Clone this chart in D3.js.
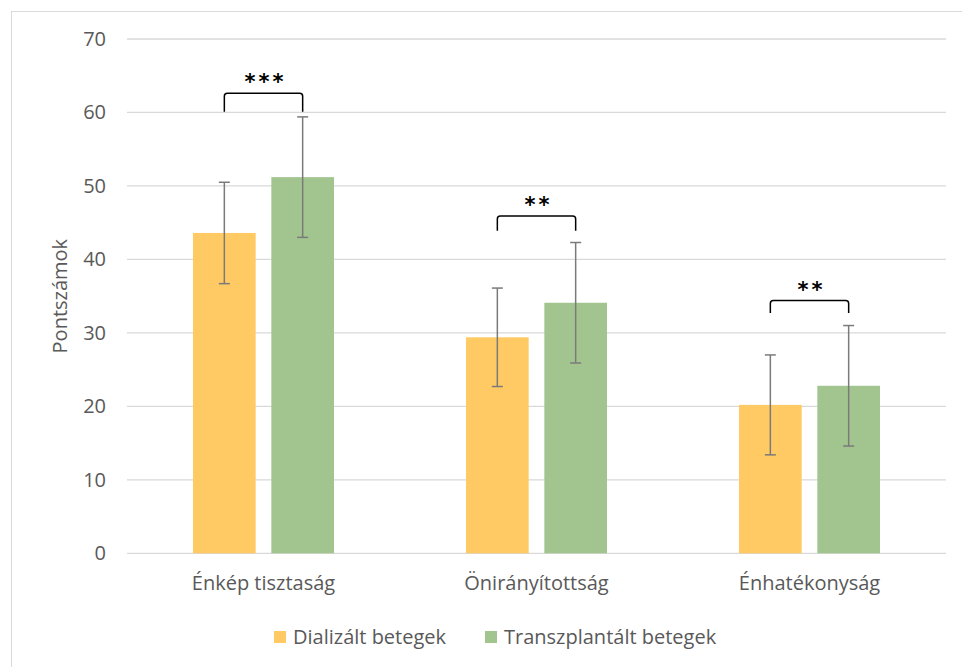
<!DOCTYPE html>
<html>
<head>
<meta charset="utf-8">
<script src="https://cdn.jsdelivr.net/npm/d3@7"></script>
<style>
  html, body { margin: 0; padding: 0; background: #fff; }
  svg { display: block; font-family: "Open Sans", "Noto Sans", sans-serif; }
</style>
</head>
<body>
<svg id="chart" width="962" height="667"></svg>
<script>
// Scale scores per group
const categories = ["Énkép tisztaság", "Önirányítottság", "Énhatékonyság"];
const seriesNames = ["Dializált betegek", "Transzplantált betegek"];
const seriesColors = ["#FFCA63", "#A2C590"];
const dialysisMean = [43.6, 29.4, 20.2];
const dialysisSD = [6.9, 6.7, 6.8];
const transplantMean = [51.2, 34.1, 22.8];
const transplantSD = [8.2, 8.2, 8.2];
const yTicks = [0, 10, 20, 30, 40, 50, 60, 70];
// significance brackets: top line, leg ends, star label
const bracketTop = [62.6, 45.9, 34.4];
const bracketLeg = [60.1, 43.9, 32.7];
const significance = ["***", "**", "**"];

const svg = d3.select("#chart");
const plot = { left: 127, right: 946, top: 39, bottom: 553.3 };
const labelSize = 20;

// outer chart frame (runs past the canvas at right and bottom)
svg.append("rect")
  .attr("x", 11.5).attr("y", 11.5)
  .attr("width", 1000).attr("height", 700)
  .attr("fill", "none").attr("stroke", "#d9d9d9").attr("stroke-width", 1);

const x = d3.scaleBand().domain(categories).range([plot.left, plot.right]);
const y = d3.scaleLinear().domain([0, 70]).range([plot.bottom, plot.top]);
const inner = d3.scaleBand().domain([0, 1])
  .range([x.bandwidth() * 0.2418, x.bandwidth() * 0.7582]).paddingInner(0.2);

// gridlines
svg.append("g").selectAll("line").data(yTicks).join("line")
  .attr("x1", plot.left).attr("x2", plot.right)
  .attr("y1", d => y(d)).attr("y2", d => y(d))
  .attr("stroke", "#d9d9d9").attr("stroke-width", 1.3);

// y axis labels
const yAxis = d3.axisLeft(y).tickValues(yTicks).tickSize(0).tickPadding(0);
svg.append("g")
  .attr("transform", `translate(${plot.left - 21},0)`)
  .call(yAxis)
  .call(g => g.select(".domain").remove())
  .call(g => g.selectAll("text")
    .attr("fill", "#595959").attr("font-size", labelSize)
    .attr("font-family", "'Open Sans', sans-serif"));

// x axis labels
const xAxis = d3.axisBottom(x).tickSize(0).tickPadding(0);
svg.append("g")
  .attr("transform", `translate(0,${plot.bottom + 22.5})`)
  .call(xAxis)
  .call(g => g.select(".domain").remove())
  .call(g => g.selectAll("text")
    .attr("fill", "#595959").attr("font-size", labelSize)
    .attr("font-family", "'Open Sans', sans-serif"));

// y axis title
svg.append("text")
  .attr("transform", `translate(67,${(plot.top + plot.bottom) / 2}) rotate(-90)`)
  .attr("text-anchor", "middle")
  .attr("fill", "#595959").attr("font-size", 20)
  .text("Pontszámok");

const rows = categories.map((c, i) => ({
  cat: c,
  values: [
    { s: 0, mean: dialysisMean[i], sd: dialysisSD[i] },
    { s: 1, mean: transplantMean[i], sd: transplantSD[i] }
  ]
}));

const groups = svg.append("g").selectAll("g").data(rows).join("g")
  .attr("transform", d => `translate(${x(d.cat)},0)`);

groups.selectAll("rect").data(d => d.values).join("rect")
  .attr("x", d => inner(d.s))
  .attr("width", inner.bandwidth())
  .attr("y", d => y(d.mean))
  .attr("height", d => y(0) - y(d.mean))
  .attr("fill", d => seriesColors[d.s]);

// error bars (±SD)
const capHalf = 5.5;
const eb = groups.selectAll("g.err").data(d => d.values).join("g").attr("class", "err")
  .attr("stroke", "#7a7a7a").attr("stroke-width", 1.5);
const cx = d => inner(d.s) + inner.bandwidth() / 2;
eb.append("line")
  .attr("x1", cx).attr("x2", cx)
  .attr("y1", d => y(d.mean + d.sd)).attr("y2", d => y(d.mean - d.sd));
eb.append("line")
  .attr("x1", d => cx(d) - capHalf).attr("x2", d => cx(d) + capHalf)
  .attr("y1", d => y(d.mean + d.sd)).attr("y2", d => y(d.mean + d.sd));
eb.append("line")
  .attr("x1", d => cx(d) - capHalf).attr("x2", d => cx(d) + capHalf)
  .attr("y1", d => y(d.mean - d.sd)).attr("y2", d => y(d.mean - d.sd));

// significance brackets
groups.each(function (d, i) {
  const g = d3.select(this);
  const xl = inner(0) + inner.bandwidth() / 2;
  const xr = inner(1) + inner.bandwidth() / 2;
  const yt = y(bracketTop[i]);
  const yb = y(bracketLeg[i]);
  const r = 3;
  const p = d3.path();
  p.moveTo(xl, yb);
  p.lineTo(xl, yt + r);
  p.quadraticCurveTo(xl, yt, xl + r, yt);
  p.lineTo(xr - r, yt);
  p.quadraticCurveTo(xr, yt, xr, yt + r);
  p.lineTo(xr, yb);
  g.append("path").attr("d", p.toString())
    .attr("fill", "none").attr("stroke", "#000").attr("stroke-width", 1.5);
  g.append("text")
    .attr("x", (xl + xr) / 2 + 2).attr("y", yt - 4)
    .attr("text-anchor", "middle")
    .attr("font-size", 21).attr("font-family", "'DejaVu Sans', sans-serif")
    .attr("font-weight", "bold")
    .attr("letter-spacing", 3)
    .attr("fill", "#000")
    .text(significance[i]);
});

// legend
const legend = svg.append("g").attr("transform", "translate(274,637)");
const legendX = [0, 211];
seriesNames.forEach((name, i) => {
  const lg = legend.append("g").attr("transform", `translate(${legendX[i]},0)`);
  lg.append("rect").attr("x", 0).attr("y", -6).attr("width", 12).attr("height", 12)
    .attr("fill", seriesColors[i]);
  lg.append("text").attr("x", 19).attr("y", 0).attr("dy", "0.35em")
    .attr("fill", "#595959").attr("font-size", labelSize).text(name);
});
</script>
</body>
</html>
